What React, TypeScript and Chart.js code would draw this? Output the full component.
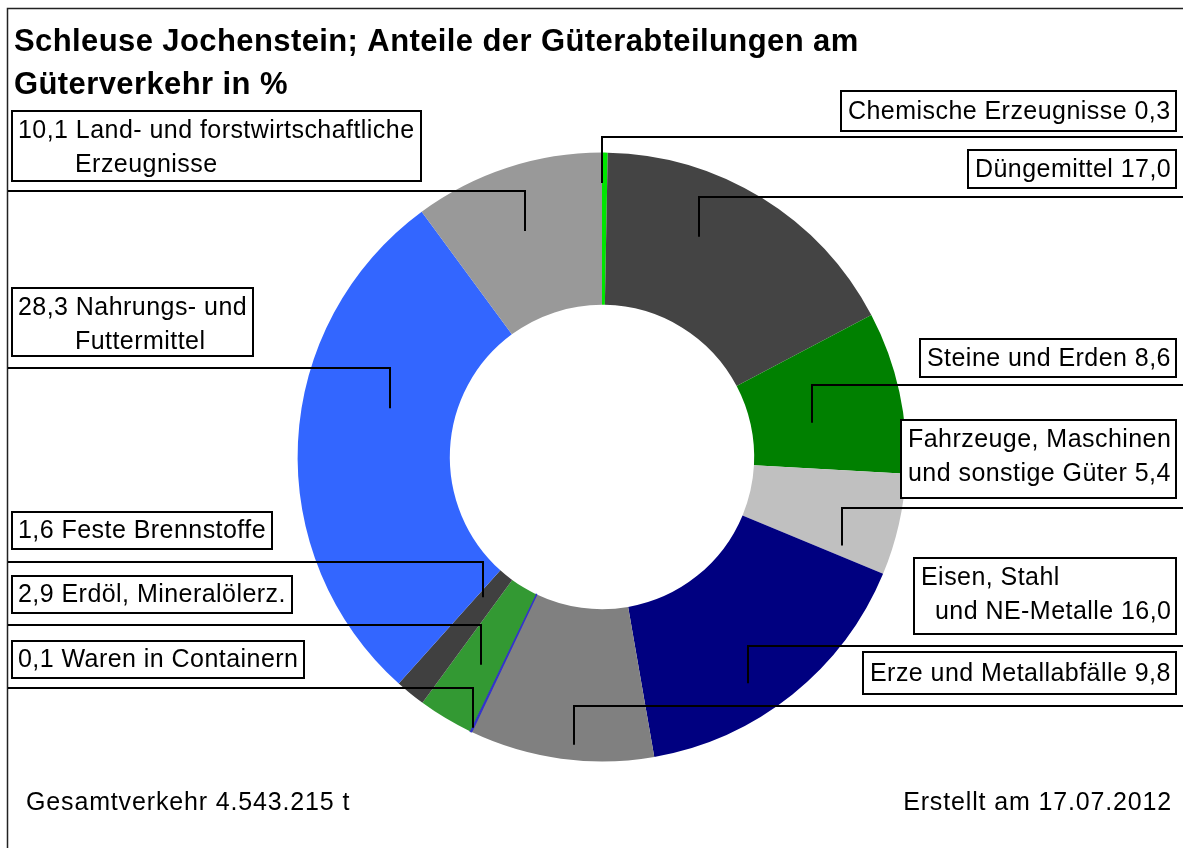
import React, { useEffect, useRef } from 'react';
import { Chart, registerables } from 'chart.js';

Chart.register(...registerables);

// ---- data ----
const categories = [
  'Chemische Erzeugnisse',
  'Düngemittel',
  'Steine und Erden',
  'Fahrzeuge, Maschinen\nund sonstige Güter',
  'Eisen, Stahl\nund NE-Metalle',
  'Erze und Metallabfälle',
  'Waren in Containern',
  'Erdöl, Mineralölerz.',
  'Feste Brennstoffe',
  'Nahrungs- und\nFuttermittel',
  'Land- und forstwirtschaftliche\nErzeugnisse',
];
const shares = [0.3, 17.0, 8.6, 5.4, 16.0, 9.8, 0.1, 2.9, 1.6, 28.3, 10.1];
const segmentColors = [
  '#00e600', '#444444', '#008000', '#c0c0c0', '#000080', '#808080',
  '#3333cc', '#339933', '#404040', '#3366ff', '#999999',
];
const segmentBorders = [0, 0, 0, 0, 0, 0, 1.2, 0, 0, 0, 0];
const titleLines = ['Schleuse Jochenstein; Anteile der Güterabteilungen am', 'Güterverkehr in %'];
const footerLeft = 'Gesamtverkehr 4.543.215 t';
const footerRight = 'Erstellt am 17.07.2012';

// ---- layout of callouts (positions only) ----
type Callout = { side: 'L' | 'R'; top: number; h: number; lineY: number; t: number; rf: number; line2Indent?: number };
const callouts: Callout[] = [
  { side: 'R', top: 91, h: 40, lineY: 137, t: 0.0, rf: 0.8 },
  { side: 'R', top: 150, h: 38, lineY: 197, t: 0.37, rf: 0.58 },
  { side: 'R', top: 339, h: 38, lineY: 385, t: 0.6, rf: 0.4 },
  { side: 'R', top: 420, h: 78, lineY: 508, t: 0.88, rf: 0.68 },
  { side: 'R', top: 558, h: 76, lineY: 646, t: 0.6, rf: 0.77, line2Indent: 14 },
  { side: 'R', top: 652, h: 42, lineY: 706, t: 0.44, rf: 0.9 },
  { side: 'L', top: 641, h: 37, lineY: 688, t: 0.1, rf: 0.97 },
  { side: 'L', top: 576, h: 37, lineY: 625, t: 0.43, rf: 0.58 },
  { side: 'L', top: 512, h: 37, lineY: 562, t: 0.74, rf: 0.21 },
  { side: 'L', top: 288, h: 68, lineY: 368, t: 0.6, rf: 0.43 },
  { side: 'L', top: 111, h: 70, lineY: 191, t: 0.48, rf: 0.57 },
];

const W = 1183;
const H = 848;
const labelFont = '25px "Liberation Sans", Arial, sans-serif';

const fmt = (v: number) => v.toFixed(1).replace('.', ',');

function labelLines(i: number): string[] {
  const parts = categories[i].split('\n');
  if (callouts[i].side === 'R') parts[parts.length - 1] += ' ' + fmt(shares[i]);
  else parts[0] = fmt(shares[i]) + ' ' + parts[0];
  return parts;
}

const overlay = {
  id: 'overlay',
  beforeDraw(chart: any) {
    const ctx = chart.ctx;
    ctx.save();
    ctx.fillStyle = '#ffffff';
    ctx.fillRect(0, 0, chart.width, chart.height);
    ctx.restore();
  },
  afterDraw(chart: any) {
    const ctx: any = chart.ctx;
    ctx.save();
    // frame
    ctx.strokeStyle = '#222';
    ctx.lineWidth = 1.5;
    ctx.beginPath();
    ctx.moveTo(7.5, H);
    ctx.lineTo(7.5, 8.5);
    ctx.lineTo(W, 8.5);
    ctx.stroke();

    // title
    ctx.fillStyle = '#000';
    ctx.textBaseline = 'alphabetic';
    ctx.textAlign = 'left';
    ctx.font = 'bold 31px "Liberation Sans", Arial, sans-serif';
    ctx.letterSpacing = '0.4px';
    ctx.fillText(titleLines[0], 14, 51);
    ctx.fillText(titleLines[1], 14, 94);

    // leader lines
    const meta = chart.getDatasetMeta(0);
    ctx.strokeStyle = '#000';
    ctx.lineWidth = 2;
    meta.data.forEach((arc: any, i: number) => {
      const p = arc.getProps(['x', 'y', 'startAngle', 'endAngle', 'innerRadius', 'outerRadius'], true);
      const c = callouts[i];
      const a = p.startAngle + c.t * (p.endAngle - p.startAngle);
      const r = p.innerRadius + c.rf * (p.outerRadius - p.innerRadius);
      const ax = Math.round(p.x + Math.cos(a) * r);
      const ay = p.y + Math.sin(a) * r;
      ctx.beginPath();
      ctx.moveTo(ax, ay);
      ctx.lineTo(ax, c.lineY);
      ctx.lineTo(c.side === 'R' ? W : 8, c.lineY);
      ctx.stroke();
    });

    // boxes
    ctx.font = labelFont;
    ctx.letterSpacing = '0.45px';
    callouts.forEach((c, i) => {
      const lines = labelLines(i);
      let x0: number;
      let x1: number;
      if (c.side === 'R') {
        const maxW = Math.max(...lines.map((l, k) => ctx.measureText(l).width + (k === 1 && c.line2Indent ? c.line2Indent : 0)));
        x1 = 1176;
        x0 = Math.round(x1 - maxW - 12);
      } else {
        const ext = lines.map((l, k) => (k === 0 ? 18 : 75) + ctx.measureText(l).width);
        x0 = 12;
        x1 = Math.round(Math.max(...ext) + 6);
      }
      ctx.fillStyle = '#fff';
      ctx.fillRect(x0, c.top, x1 - x0, c.h);
      ctx.strokeStyle = '#000';
      ctx.lineWidth = 2;
      ctx.strokeRect(x0, c.top, x1 - x0, c.h);
      ctx.fillStyle = '#000';
      lines.forEach((l, k) => {
        const y = c.top + (lines.length === 1 ? c.h / 2 + 7.5 : 27 + k * 34);
        if (c.side === 'R') {
          const indent = k === 1 && c.line2Indent ? c.line2Indent : 0;
          ctx.fillText(l, x0 + 7 + indent, y);
        } else {
          ctx.fillText(l, k === 0 ? 18 : 75, y);
        }
      });
    });

    // footer
    ctx.font = '25px "Liberation Sans", Arial, sans-serif';
    ctx.letterSpacing = '0.85px';
    ctx.textAlign = 'left';
    ctx.fillText(footerLeft, 26, 810);
    ctx.textAlign = 'right';
    ctx.fillText(footerRight, 1172, 810);
    ctx.restore();
  },
};

export default function App() {
  const ref = useRef<HTMLCanvasElement | null>(null);
  useEffect(() => {
    document.body.style.margin = '0';
    if (!ref.current) return;
    const chart = new Chart(ref.current, {
      type: 'doughnut',
      data: {
        labels: categories.map((c) => c.replace('\n', ' ')),
        datasets: [
          {
            data: shares,
            backgroundColor: segmentColors,
            borderColor: segmentColors,
            borderWidth: segmentBorders,
          },
        ],
      },
      options: {
        responsive: false,
        animation: false,
        cutout: '50%',
        layout: { padding: { left: 297, top: 152, right: 276, bottom: 86 } },
        plugins: { legend: { display: false }, tooltip: { enabled: false }, title: { display: false } },
      },
      plugins: [overlay],
    });
    return () => chart.destroy();
  }, []);
  return (
    <div style={{ width: W, height: H }}>
      <canvas ref={ref} width={W} height={H} style={{ display: 'block' }} />
    </div>
  );
}
